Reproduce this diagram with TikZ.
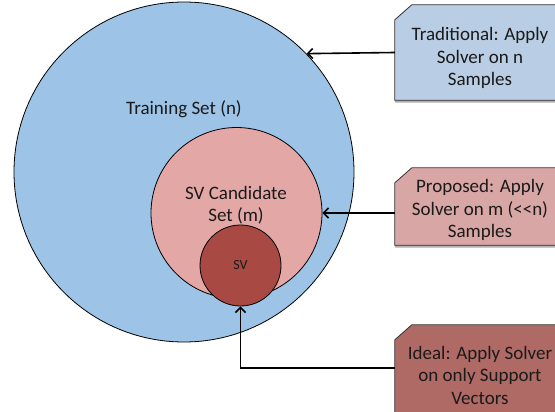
\documentclass[tikz,border=0pt]{standalone}
\usepackage{fontspec}
\setmainfont{Carlito}
\usetikzlibrary{arrows.meta,shadows}
\definecolor{trainblue}{HTML}{9DC3E6}
\definecolor{candpink}{HTML}{E3A8A6}
\definecolor{svred}{HTML}{A84A43}
\definecolor{boxblue}{HTML}{B9CDE5}
\definecolor{boxpink}{HTML}{D8A6A5}
\definecolor{boxred}{HTML}{B06A66}
\definecolor{ink}{HTML}{1A1A1A}
\tikzset{
  setcircle/.style={circle, draw=black, line width=0.8pt, inner sep=0pt},
  label18/.style={text=ink, font=\fontsize{19}{22.5}\selectfont, align=center, inner sep=0pt},
  boxframe/.style={rectangle, minimum width=170pt, inner sep=0pt},
  boxoutline/.style={draw=black!80, line width=0.8pt,
    drop shadow={shadow xshift=0pt, shadow yshift=-2.5pt, opacity=0.45, fill=black!70}},
  pointer/.style={-{Straight Barb[length=5pt,width=10pt]}, line width=1.6pt, black}
}
% outline of a box with its top-left corner cut off, drawn on a named frame node
\newcommand{\cutbox}[2]{%
  \path[boxoutline, fill=#2] (#1.south west) -- ([yshift=-15pt]#1.north west)
    -- ([xshift=17pt]#1.north west) -- (#1.north east) -- (#1.south east) -- cycle;}
\begin{document}
\begin{tikzpicture}[x=1pt,y=-1pt]
  \useasboundingbox (0,0) rectangle (555,412);
  \clip (0,0) rectangle (555,412);
  \fill[white] (0,0) rectangle (555,412);

  % nested sets
  \node[setcircle, fill=trainblue, minimum size=340pt] (train) at (184,172) {};
  \node[label18] (trainlbl) at (184,109) {Training Set (n)};
  \node[setcircle, fill=candpink, minimum size=171pt] (cand) at (236.5,213) {};
  \node[label18] (candlbl) at (236,205) {SV Candidate\\Set (m)};
  \node[setcircle, fill=svred, minimum size=81pt, text=ink,
        font=\fontsize{14}{16}\selectfont] (sv) at (240.5,265.5) {SV};

  % annotation boxes
  \node[boxframe, minimum height=95pt] (trad) at (480,52.5) {};
  \cutbox{trad}{boxblue}
  \node[label18] (tradlbl) at (480,58)
    {Traditional: Apply\\Solver on n\\Samples};
  \node[boxframe, minimum height=77pt] (prop) at (480,206.5) {};
  \cutbox{prop}{boxpink}
  \node[label18] (proplbl) at (480,210)
    {Proposed: Apply\\Solver on m ({<}{<}n)\\Samples};
  \node[boxframe, minimum height=95pt] (ideal) at (480,372.5) {};
  \cutbox{ideal}{boxred}
  \node[label18] (ideallbl) at (480,375)
    {Ideal: Apply Solver\\on only Support\\Vectors};

  % pointers from the boxes to the sets
  \draw[pointer] (trad.west) -- (train.44.4);
  \draw[pointer] (cand.east -| prop.west) -- (cand.east);
  \draw[pointer] (ideal.west |- 0,368) -| (sv.south);
\end{tikzpicture}
\end{document}
